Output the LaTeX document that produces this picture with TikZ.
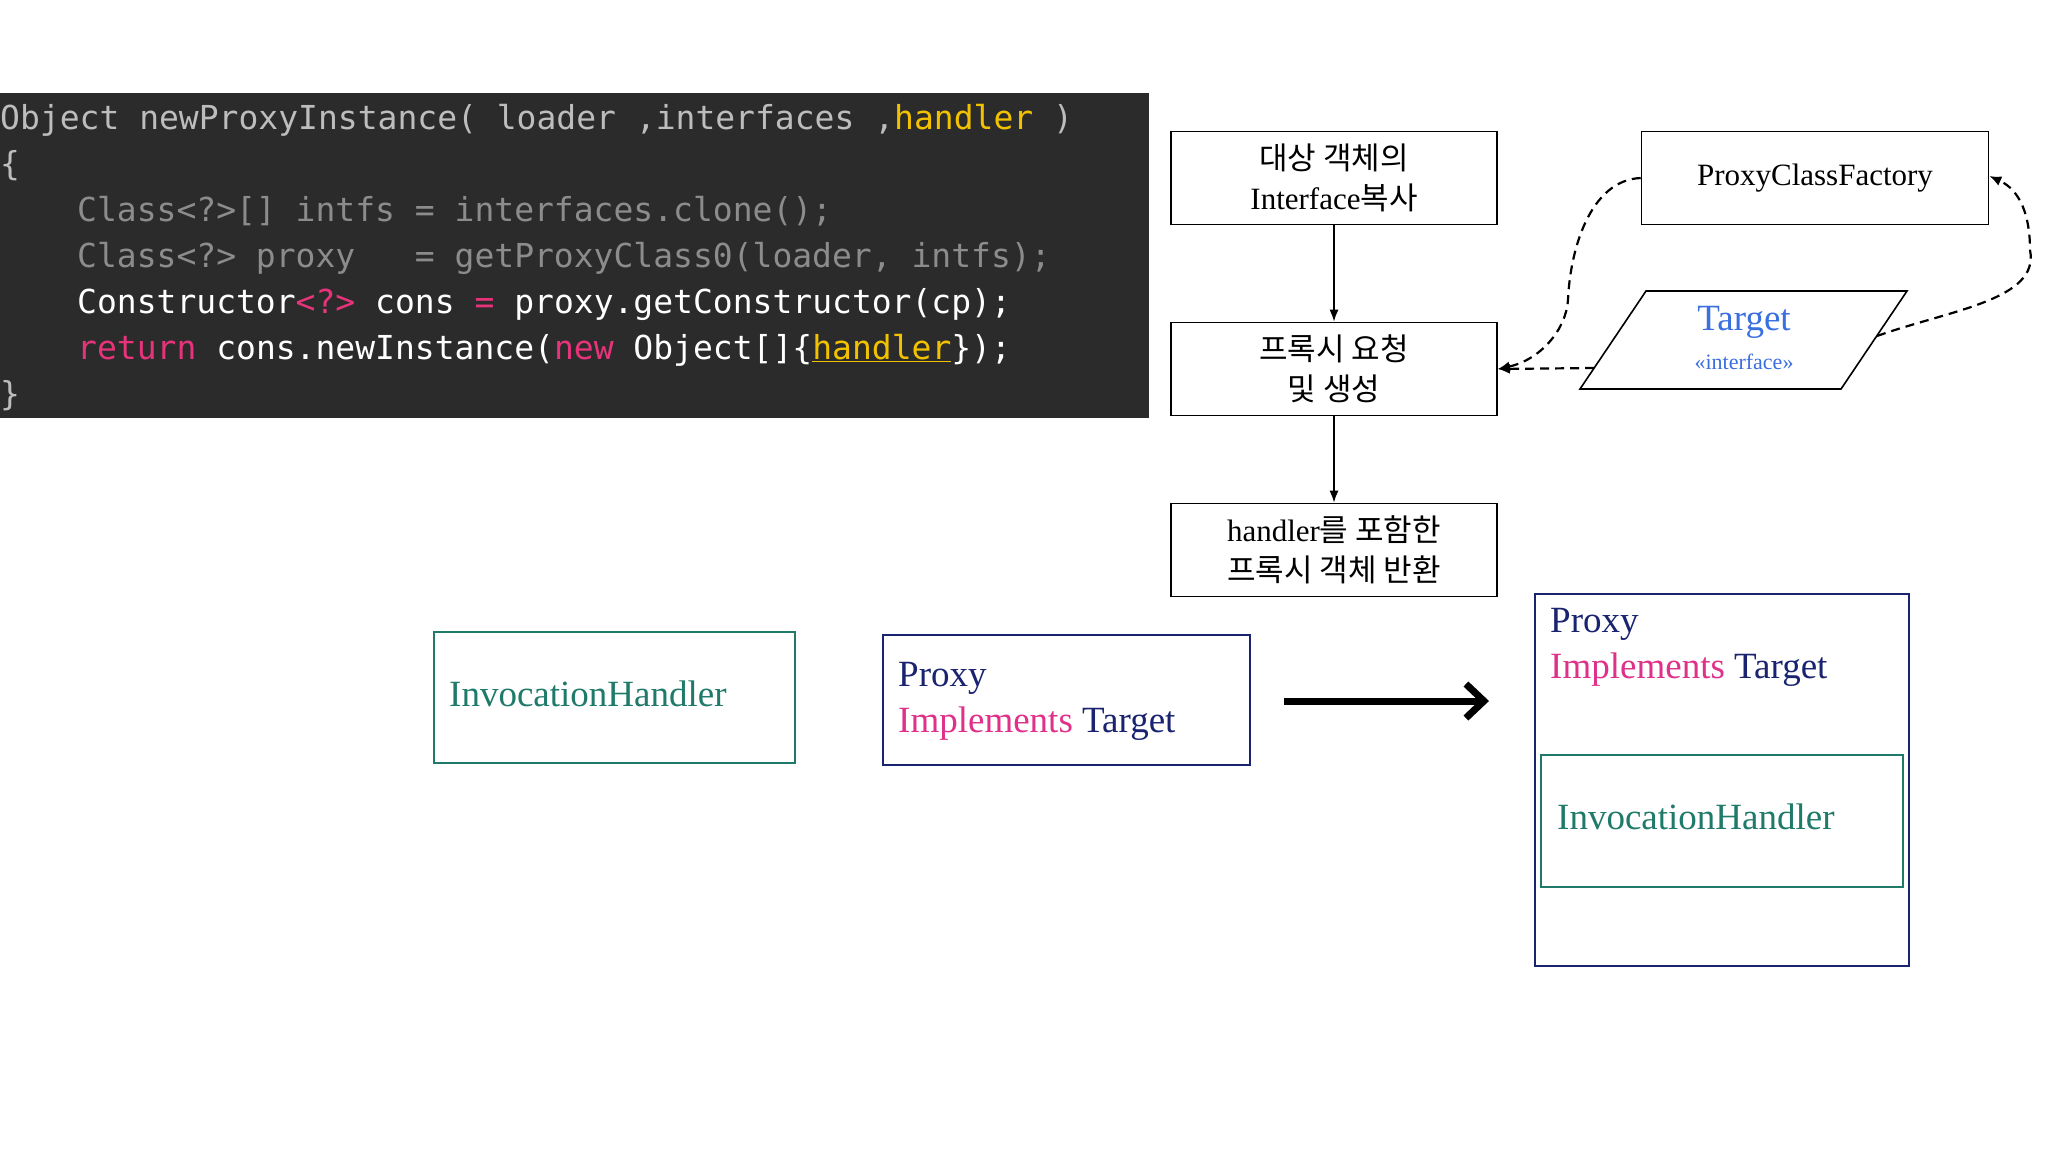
\documentclass[tikz,border=0pt]{standalone}
\usepackage{fontspec}
\setmainfont{Liberation Serif}
\newfontfamily\codefont{DejaVu Sans Mono}
\newfontfamily\kr{Noto Sans CJK KR}
\usetikzlibrary{arrows.meta}
\definecolor{codebg}{HTML}{2B2B2B}
\definecolor{cgray}{HTML}{BDBDBD}
\definecolor{cdim}{HTML}{8C8C8C}
\definecolor{cpink}{HTML}{E6337A}
\definecolor{cyel}{HTML}{F2C200}
\definecolor{teal}{HTML}{1F7A6A}
\definecolor{navy}{HTML}{1A2370}
\definecolor{mpink}{HTML}{E0318A}
\definecolor{tblue}{HTML}{3A6FE0}
\tikzset{
 code/.style={anchor=base west,inner sep=0pt,font=\codefont\fontsize{33}{33}\selectfont},
 flowbox/.style={draw,line width=1.6pt,minimum width=326pt,minimum height=93pt,align=center,font=\fontsize{31}{40}\selectfont},
 flowarrow/.style={line width=1.6pt,-{Latex[length=12pt,width=9pt]}},
 dasharrow/.style={line width=2.2pt,dash pattern=on 9pt off 6pt,-{Latex[length=12pt,width=10pt]}},
 sertext/.style={anchor=base west,inner sep=0pt,font=\fontsize{37}{37}\selectfont},
}
\begin{document}
\begin{tikzpicture}[x=1pt,y=-1pt]
\useasboundingbox (0,0) rectangle (2048,1152);
\fill[white] (0,0) rectangle (2048,1152);
% code block
\fill[codebg] (0,93) rectangle (1149,418);
\node[code,text=cgray] (l1) at (0,129) {Object newProxyInstance( loader ,interfaces ,\textcolor{cyel}{handler} )};
\node[code,text=cgray] (l2) at (0,175) {\{};
\node[code,text=cdim] (l3) at (77,221) {Class<?>[] intfs = interfaces.clone();};
\node[code,text=cdim] (l4) at (77,267) {Class<?> proxy~~~= getProxyClass0(loader, intfs);};
\node[code,text=white] (l5) at (77,313) {Constructor\textcolor{cpink}{<?>} cons \textcolor{cpink}{=} proxy.getConstructor(cp);};
\node[code,text=white] (l6) at (77,359) {\textcolor{cpink}{return} cons.newInstance(\textcolor{cpink}{new} Object[]\{\textcolor{cyel}{\underline{handler}}\});};
\node[code,text=cgray] (l7) at (0,405) {\}};
% flow
\node[flowbox] (b1) at (1334,178) {\kr 대상 객체의\\Interface\kr 복사};
\node[flowbox] (b2) at (1334,369) {\kr 프록시 요청\\\kr 및 생성};
\node[flowbox] (b3) at (1334,550) {handler\kr 를 포함한\\\kr 프록시 객체 반환};
\node[flowbox,minimum width=347pt] (pcf) at (1815,178) {ProxyClassFactory};
\draw[flowarrow] (b1) -- (b2);
\draw[flowarrow] (b2) -- (b3);
\draw[line width=1.6pt] (1646,291) coordinate (t1) -- (1907,291) coordinate (t2) -- (1841,389) coordinate (t3) -- (1580,389) coordinate (t4) -- cycle;
\node[text=tblue,font=\fontsize{37}{37}\selectfont] (tg) at (1744,322) {Target};
\node[text=tblue,font=\fontsize{22}{22}\selectfont] (ti) at (1744,362) {<<interface>>};
\coordinate (tl) at (1594,368);
\coordinate (tr) at (1877,336);
\draw[dasharrow] (pcf.west |- 0,178) .. controls (1590,180) and (1570,250) .. (1568,300) .. controls (1566,330) and (1540,360) .. (b2.east);
\draw[dasharrow] (tl) -- (b2.east);
\draw[dasharrow] (tr) .. controls (1950,310) and (2040,300) .. (2030,250) .. controls (2030,215) and (2020,190) .. (pcf.east |- 0,176);
% bottom boxes
\draw[teal,line width=1.6pt] (434,632) rectangle (795,763);
\node[sertext,text=teal] (ih1) at (449,706) {InvocationHandler};
\draw[navy,line width=1.6pt] (883,635) rectangle (1250,765);
\node[sertext,text=navy] (p1) at (898,686) {Proxy};
\node[sertext,text=mpink] (im1) at (898,732) {Implements \textcolor{navy}{Target}};
\draw[line width=7pt,-{Straight Barb[length=18pt,width=34pt]}] (1284,701) coordinate (a1) -- (1489,701) coordinate (a2);
\draw[navy,line width=1.6pt] (1535,594) rectangle (1909,966);
\node[sertext,text=navy] (p2) at (1550,632) {Proxy};
\node[sertext,text=mpink] (im2) at (1550,678) {Implements \textcolor{navy}{Target}};
\draw[teal,line width=1.6pt] (1541,755) rectangle (1903,887);
\node[sertext,text=teal] (ih2) at (1557,829) {InvocationHandler};
\end{tikzpicture}
\end{document}
